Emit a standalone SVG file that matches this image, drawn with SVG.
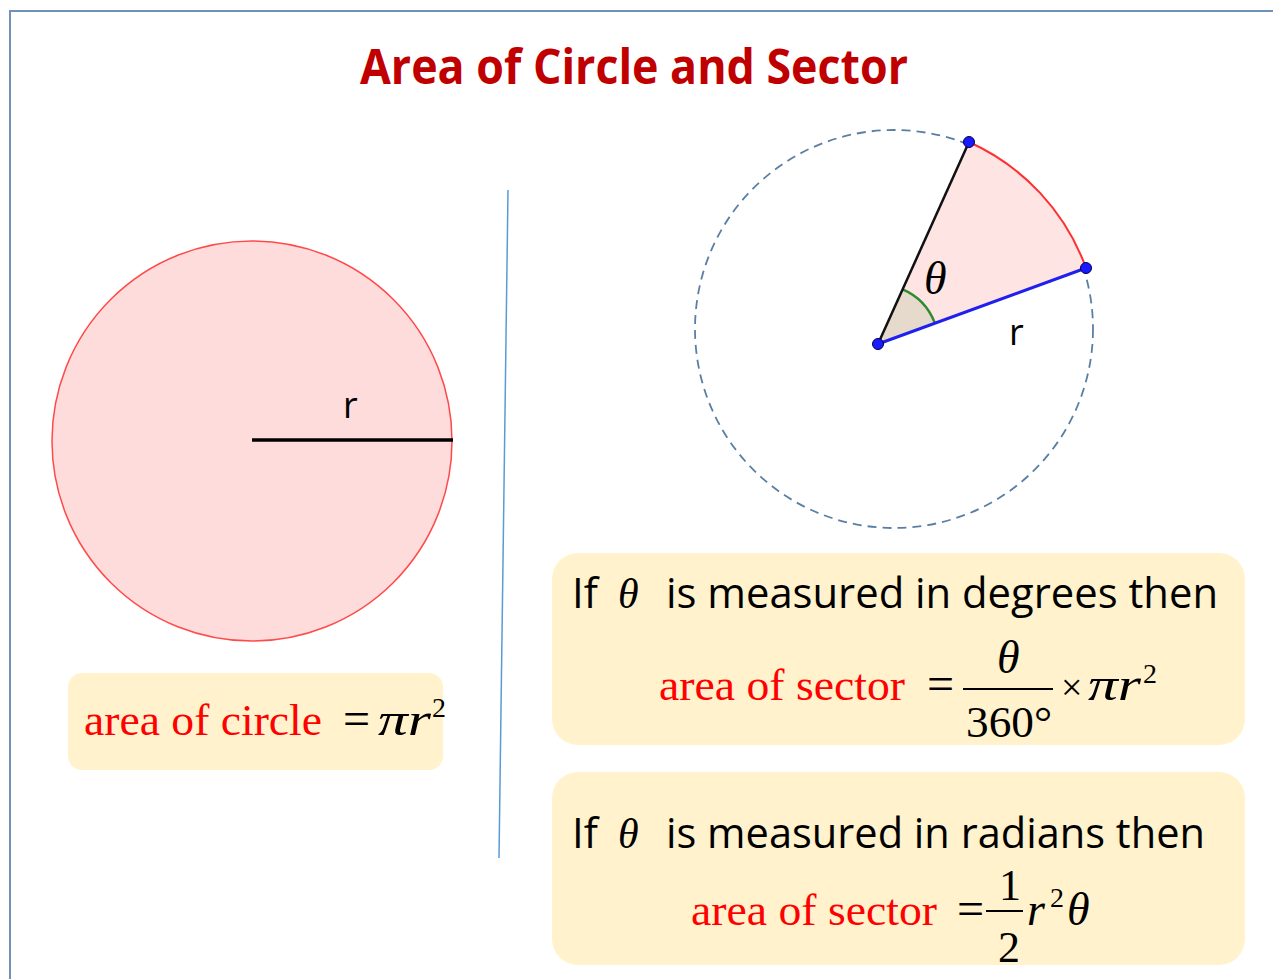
<svg xmlns="http://www.w3.org/2000/svg" width="1273" height="979" viewBox="0 0 1273 979">
<style>
.sans{font-family:"Open Sans","Liberation Sans",sans-serif;fill:#000}
.ser{font-family:"Liberation Serif","Times New Roman",serif;fill:#000}
.it{font-style:italic}
.red{fill:#ff0000}
.box{fill:#fff2cc}
.dot{fill:#1a1aff;stroke:#000050;stroke-width:1}
</style>
<rect x="0" y="0" width="1273" height="979" fill="#ffffff"/>
<path d="M10,979 V11 H1273" fill="none" stroke="#7092b8" stroke-width="2"/>
<text x="360" y="84" class="sans" font-size="48" font-weight="bold" fill="#c00000" style="fill:#c00000" textLength="548" lengthAdjust="spacingAndGlyphs">Area of Circle and Sector</text>

<g id="circle">
<circle cx="252" cy="441" r="200" fill="#ffdcdc" stroke="#ff4a4a" stroke-width="1.5"/>
<line x1="252" y1="440" x2="453" y2="440" stroke="#000" stroke-width="3.5"/>
<text x="343" y="418" class="sans" font-size="36">r</text>
</g>

<line x1="508" y1="190" x2="499" y2="858" stroke="#5b9bd5" stroke-width="1.5"/>

<g id="sector">
<circle cx="894" cy="329" r="199" fill="none" stroke="#5b7fa3" stroke-width="1.8" stroke-dasharray="9,6"/>
<path d="M878,344 L969,142 A221,221 0 0 1 1086,268 Z" fill="#ffe4e4" stroke="none"/>
<path d="M969,142 A221,221 0 0 1 1086,268" fill="none" stroke="#ff3030" stroke-width="2"/>
<path d="M878,344 L902.7,289.3 A60,60 0 0 1 934.5,322.1 Z" fill="#e6dacd" stroke="none"/>
<path d="M902.7,289.3 A60,60 0 0 1 934.5,322.1" fill="none" stroke="#2e8b2e" stroke-width="2.5"/>
<line x1="878" y1="344" x2="969" y2="142" stroke="#111" stroke-width="2.5"/>
<line x1="878" y1="344" x2="1086" y2="268" stroke="#2020ee" stroke-width="3"/>
<circle cx="878" cy="344" r="5.5" class="dot"/>
<circle cx="969" cy="142" r="5.5" class="dot"/>
<circle cx="1086" cy="268" r="5.5" class="dot"/>
<text x="924" y="294" class="ser it" font-size="46">θ</text>
<text x="1009" y="345" class="sans" font-size="36">r</text>
</g>

<g id="box-circle">
<rect x="68" y="673" width="375" height="97" rx="14" class="box"/>
<text x="84" y="735" class="ser red" font-size="44" textLength="238" lengthAdjust="spacingAndGlyphs">area of circle</text>
<text x="343" y="735" class="ser" font-size="48">=</text>
<text x="378" y="735" class="ser it" font-size="46" textLength="53" lengthAdjust="spacingAndGlyphs">πr</text>
<text x="432" y="717" class="ser" font-size="28">2</text>
</g>

<g id="box-degrees">
<rect x="552" y="553" width="693" height="192" rx="26" class="box"/>
<text x="572" y="608" class="sans" font-size="42">If</text>
<text x="618" y="608" class="ser it" font-size="42">θ</text>
<text x="666" y="608" class="sans" font-size="42" textLength="552" lengthAdjust="spacingAndGlyphs">is measured in degrees then</text>
<text x="659" y="700" class="ser red" font-size="44" textLength="246" lengthAdjust="spacingAndGlyphs">area of sector</text>
<text x="927" y="700" class="ser" font-size="48">=</text>
<text x="997" y="673" class="ser it" font-size="46">θ</text>
<line x1="963" y1="689" x2="1053" y2="689" stroke="#000" stroke-width="2"/>
<text x="966" y="737" class="ser" font-size="44" textLength="86" lengthAdjust="spacingAndGlyphs">360°</text>
<text x="1061" y="700" class="ser" font-size="38">×</text>
<text x="1088" y="700" class="ser it" font-size="46" textLength="53" lengthAdjust="spacingAndGlyphs">πr</text>
<text x="1143" y="683" class="ser" font-size="28">2</text>
</g>

<g id="box-radians">
<rect x="552" y="772" width="693" height="193" rx="26" class="box"/>
<text x="572" y="848" class="sans" font-size="42">If</text>
<text x="618" y="848" class="ser it" font-size="42">θ</text>
<text x="666" y="848" class="sans" font-size="42" textLength="539" lengthAdjust="spacingAndGlyphs">is measured in radians then</text>
<text x="691" y="925" class="ser red" font-size="44" textLength="246" lengthAdjust="spacingAndGlyphs">area of sector</text>
<text x="957" y="925" class="ser" font-size="48">=</text>
<text x="999" y="900" class="ser" font-size="44">1</text>
<line x1="986" y1="911" x2="1023" y2="911" stroke="#000" stroke-width="2"/>
<text x="998" y="962" class="ser" font-size="44">2</text>
<text x="1027" y="925" class="ser it" font-size="46">r</text>
<text x="1050" y="907" class="ser" font-size="28">2</text>
<text x="1067" y="925" class="ser it" font-size="46">θ</text>
</g>
</svg>
